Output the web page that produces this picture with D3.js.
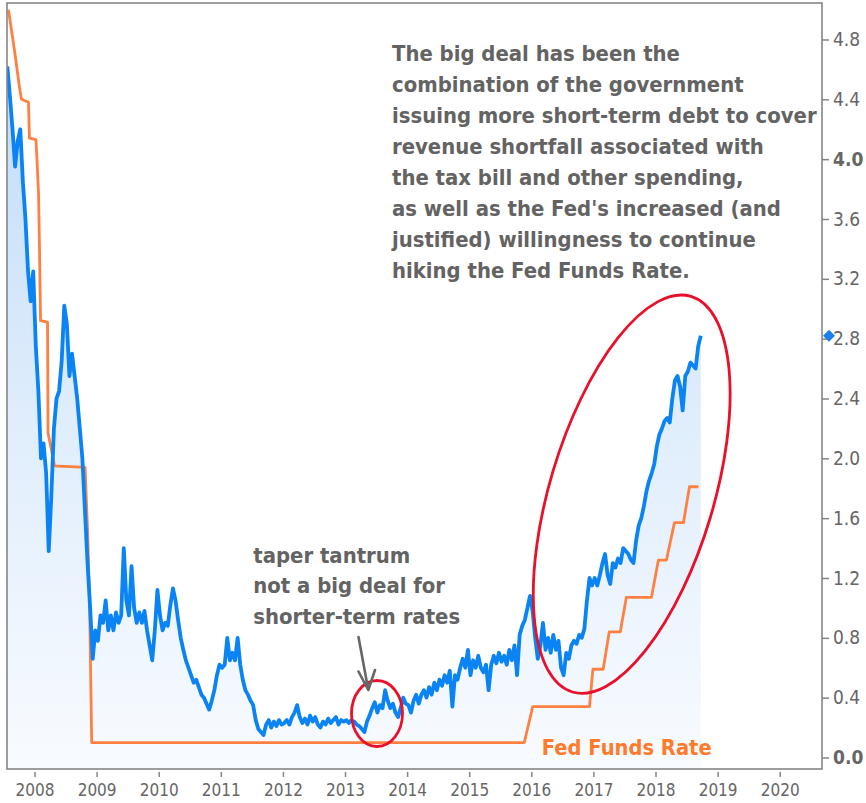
<!DOCTYPE html>
<html>
<head>
<meta charset="utf-8">
<script src="https://cdn.jsdelivr.net/npm/d3@7"></script>
<style>
  body { margin: 0; background: #ffffff; }
  svg { display: block; }
</style>
</head>
<body>
<svg id="chart" width="866" height="803"></svg>
<script>
// ---------------- DATA ----------------
const yearTicks = [2008, 2009, 2010, 2011, 2012, 2013, 2014, 2015, 2016, 2017, 2018, 2019, 2020];
const rateTicks = [0.0, 0.4, 0.8, 1.2, 1.6, 2.0, 2.4, 2.8, 3.2, 3.6, 4.0, 4.4, 4.8];
const boldTicks = [0.0, 4.0];

// 2-year Treasury yield, semi-monthly readings starting mid-2007
const yieldStart = 2007.5625;
const yieldStepYears = 1 / 24;
const yield2007 = [4.62, 4.42, 4.2, 3.95, 4.12, 4.2, 3.85, 3.6, 3.25, 3.05, 3.25];
const yield2008 = [2.75, 2.45, 2.0, 2.1, 1.9, 1.38, 1.75, 2.2, 2.4, 2.45, 2.65, 3.02, 2.9, 2.55, 2.7, 2.55, 2.4, 2.2, 2.0, 1.65, 1.3, 1.0, 0.66, 0.85];
const yield2009 = [0.78, 0.95, 0.9, 1.05, 0.85, 0.95, 0.85, 0.97, 0.9, 0.95, 1.4, 1.05, 0.95, 1.28, 1.0, 0.9, 0.97, 0.9, 0.98, 0.85, 0.75, 0.65, 0.85, 1.12];
const yield2010 = [0.95, 0.85, 0.9, 0.88, 1.02, 1.13, 1.05, 0.92, 0.8, 0.72, 0.65, 0.6, 0.55, 0.5, 0.52, 0.47, 0.42, 0.4, 0.36, 0.32, 0.38, 0.45, 0.55, 0.62];
const yield2011 = [0.6, 0.62, 0.8, 0.65, 0.7, 0.65, 0.8, 0.62, 0.52, 0.45, 0.42, 0.38, 0.35, 0.25, 0.19, 0.17, 0.15, 0.22, 0.25, 0.2, 0.24, 0.21, 0.25, 0.22];
const yield2012 = [0.23, 0.25, 0.22, 0.27, 0.3, 0.35, 0.27, 0.23, 0.26, 0.22, 0.28, 0.24, 0.27, 0.22, 0.2, 0.24, 0.22, 0.26, 0.23, 0.25, 0.27, 0.22, 0.25, 0.24];
const yield2013 = [0.25, 0.23, 0.25, 0.24, 0.22, 0.21, 0.19, 0.17, 0.24, 0.28, 0.33, 0.37, 0.3, 0.35, 0.33, 0.45, 0.38, 0.33, 0.36, 0.3, 0.27, 0.33, 0.4, 0.36];
const yield2014 = [0.35, 0.3, 0.38, 0.42, 0.36, 0.42, 0.45, 0.4, 0.47, 0.42, 0.5, 0.45, 0.52, 0.48, 0.55, 0.5, 0.58, 0.34, 0.55, 0.52, 0.6, 0.66, 0.6, 0.72];
const yield2015 = [0.55, 0.65, 0.6, 0.68, 0.6, 0.57, 0.62, 0.45, 0.62, 0.68, 0.63, 0.7, 0.64, 0.68, 0.62, 0.72, 0.65, 0.75, 0.55, 0.82, 0.88, 0.92, 1.0, 1.08];
const yield2016 = [0.98, 0.8, 0.66, 0.75, 0.9, 0.72, 0.8, 0.7, 0.82, 0.72, 0.78, 0.6, 0.55, 0.7, 0.66, 0.75, 0.78, 0.76, 0.82, 0.8, 0.86, 1.05, 1.2, 1.15];
const yield2017 = [1.2, 1.15, 1.22, 1.3, 1.36, 1.22, 1.16, 1.3, 1.27, 1.33, 1.3, 1.4, 1.38, 1.36, 1.32, 1.3, 1.45, 1.55, 1.6, 1.68, 1.78, 1.85, 1.9, 1.96];
const yield2018 = [2.08, 2.16, 2.2, 2.25, 2.27, 2.24, 2.4, 2.52, 2.55, 2.48, 2.32, 2.55, 2.58, 2.64, 2.62, 2.6, 2.75, 2.82];

// Fed Funds Rate (decimal-year dates and rate)
const fedDates = [2007.58, 2007.677, 2007.758, 2007.79, 2007.903, 2007.919, 2008.023, 2008.04, 2008.065, 2008.081, 2008.097, 2008.21, 2008.218, 2008.323, 2008.814, 2008.856, 2008.888, 2008.921, 2015.887, 2016.023, 2016.937, 2016.992, 2017.158, 2017.255, 2017.433, 2017.53, 2017.934, 2018.047, 2018.176, 2018.305, 2018.45, 2018.547, 2018.692];
const fedRate  = [5.0, 4.73, 4.48, 4.40, 4.38, 4.14, 4.13, 4.0, 3.77, 3.39, 2.92, 2.91, 2.17, 1.95, 1.94, 1.5, 1.0, 0.1, 0.1, 0.34, 0.34, 0.59, 0.59, 0.84, 0.84, 1.07, 1.07, 1.32, 1.32, 1.57, 1.57, 1.81, 1.81];

const noteLines = [
  "The big deal has been the",
  "combination of the government",
  "issuing more short-term debt to cover",
  "revenue shortfall associated with",
  "the tax bill and other spending,",
  "as well as the Fed's increased (and",
  "justified) willingness to continue",
  "hiking the Fed Funds Rate."
];
const taperLines = ["taper tantrum", "not a big deal for", "shorter-term rates"];
const fedLabel = "Fed Funds Rate";

// ---------------- BUILD ----------------
const yieldValues = [].concat(yield2007, yield2008, yield2009, yield2010, yield2011, yield2012,
  yield2013, yield2014, yield2015, yield2016, yield2017, yield2018);
const yieldData = yieldValues.map((v, i) => ({ t: yieldStart + i * yieldStepYears, v }));
const fedData = fedDates.map((t, i) => ({ t, v: fedRate[i] }));

const L = 7, R = 822, T = 3, B = 769;
const x = d3.scaleLinear().domain([2007.557, 2020.681]).range([L, R]);
const y = d3.scaleLinear().domain([-0.0769, 5.044]).range([B, T]);

const svg = d3.select("#chart");
const defs = svg.append("defs");
const grad = defs.append("linearGradient").attr("id", "fillGrad")
  .attr("gradientUnits", "userSpaceOnUse").attr("x1", 0).attr("x2", 0).attr("y1", 40).attr("y2", B);
grad.append("stop").attr("offset", "0%").attr("stop-color", "#c0dbf8");
grad.append("stop").attr("offset", "55%").attr("stop-color", "#e1eefc");
grad.append("stop").attr("offset", "100%").attr("stop-color", "#f8fbff");
defs.append("clipPath").attr("id", "plotClip").append("rect")
  .attr("x", L).attr("y", T).attr("width", R - L).attr("height", B - T);

const plot = svg.append("g").attr("clip-path", "url(#plotClip)");

// area under the yield
plot.append("path").datum(yieldData)
  .attr("fill", "url(#fillGrad)")
  .attr("d", d3.area().x(d => x(d.t)).y0(B).y1(d => y(d.v)));

// Fed funds line
plot.append("path").datum(fedData)
  .attr("fill", "none").attr("stroke", "#ff8040").attr("stroke-width", 2.8)
  .attr("stroke-linejoin", "round")
  .attr("d", d3.line().x(d => x(d.t)).y(d => y(d.v)));

// yield line
plot.append("path").datum(yieldData)
  .attr("fill", "none").attr("stroke", "#0a84f5").attr("stroke-width", 3.8)
  .attr("stroke-linejoin", "round")
  .attr("d", d3.line().x(d => x(d.t)).y(d => y(d.v)));

// frame
svg.append("rect").attr("x", L).attr("y", T).attr("width", R - L).attr("height", B - T)
  .attr("fill", "none").attr("stroke", "#858585").attr("stroke-width", 1.6);

// right axis
const yAxis = svg.append("g").attr("transform", `translate(${R},0)`)
  .call(d3.axisRight(y).tickValues(rateTicks).tickSize(7).tickPadding(4).tickFormat(d3.format(".1f")));
yAxis.select(".domain").remove();
yAxis.selectAll(".tick line").attr("stroke", "#858585").attr("stroke-width", 1.5);
yAxis.selectAll(".tick text")
  .attr("fill", "#666")
  .style("font-family", "'DejaVu Sans Condensed', 'DejaVu Sans', sans-serif")
  .style("font-stretch", "condensed")
  .style("font-size", "19px")
  .style("font-weight", d => boldTicks.includes(d) ? "bold" : "normal");

// bottom axis
const xAxis = svg.append("g").attr("transform", `translate(0,${B})`)
  .call(d3.axisBottom(x).tickValues(yearTicks).tickSize(8).tickPadding(6).tickFormat(d3.format("d")));
xAxis.select(".domain").remove();
xAxis.selectAll(".tick line").attr("y1", 3).attr("y2", 8).attr("stroke", "#858585").attr("stroke-width", 1.5);
xAxis.selectAll(".tick text")
  .attr("y", 15)
  .attr("fill", "#666")
  .style("font-family", "'DejaVu Sans Condensed', 'DejaVu Sans', sans-serif")
  .style("font-stretch", "condensed")
  .style("font-size", "17px");

// last-value marker
const last = yieldData[yieldData.length - 1];
const my = y(last.v), mx = R + 7;
svg.append("path")
  .attr("d", `M${mx},${my - 6}L${mx + 6},${my}L${mx},${my + 6}L${mx - 6},${my}Z`)
  .attr("fill", "#1a7fe8");

// ellipses
svg.append("ellipse").attr("cx", 377).attr("cy", 713.5).attr("rx", 25.5).attr("ry", 33)
  .attr("fill", "none").attr("stroke", "#e8102a").attr("stroke-width", 2.8);
svg.append("ellipse").attr("cx", 0).attr("cy", 0).attr("rx", 82).attr("ry", 206.5)
  .attr("transform", "translate(631.7,494.2) rotate(16.7)")
  .attr("fill", "none").attr("stroke", "#e8102a").attr("stroke-width", 2.8);

// arrow
svg.append("path")
  .attr("d", "M358.5,637 L368.3,690 M358.5,671.5 L368.3,690 L375,670")
  .attr("fill", "none").attr("stroke", "#666").attr("stroke-width", 2.6)
  .attr("stroke-linecap", "round").attr("stroke-linejoin", "round");

// text helpers
const textFont = "'DejaVu Sans', Verdana, sans-serif";
function block(lines, x0, base0, lead, refIndex, refWidth, color) {
  const g = svg.append("g");
  const ts = g.selectAll("text").data(lines).join("text")
    .attr("x", x0).attr("y", (d, i) => base0 + i * lead)
    .attr("fill", color)
    .style("font-family", textFont).style("font-weight", "bold").style("font-size", "22px")
    .text(d => d);
  const w = ts.nodes()[refIndex].getComputedTextLength();
  const s = refWidth / w;
  ts.attr("transform", `translate(${x0},0) scale(${s},1) translate(${-x0},0)`);
  return g;
}
block(noteLines, 392, 61.5, 31, 2, 425, "#636363");
block(taperLines, 253.3, 563.3, 30.2, 2, 207, "#636363");
block([fedLabel], 541.7, 755, 0, 0, 170, "#ff7a2a");
</script>
</body>
</html>
